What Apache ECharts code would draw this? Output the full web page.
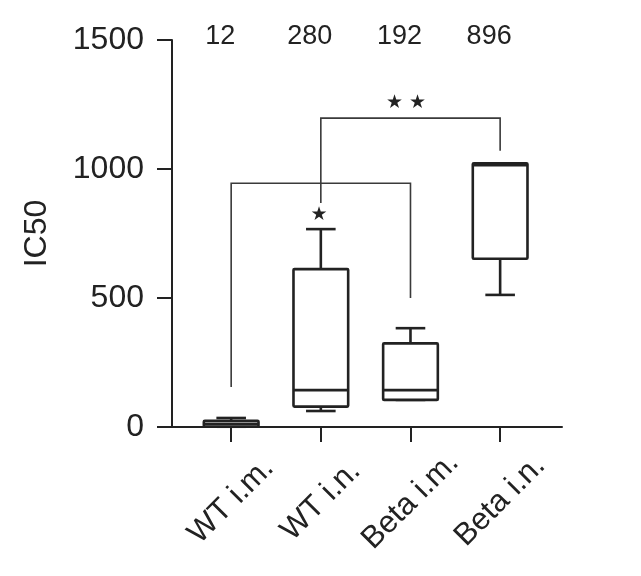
<!DOCTYPE html>
<html>
<head>
<meta charset="utf-8">
<script src="https://cdn.jsdelivr.net/npm/echarts@6/dist/echarts.min.js"></script>
<style>html,body{margin:0;padding:0;background:#fff}#c{width:641px;height:576px}</style>
</head>
<body>
<div id="c"></div>
<script>
const categories = ['WT i.m.', 'WT i.n.', 'Beta i.m.', 'Beta i.n.'];
const boxMin    = [1, 62, 105, 512];
const boxQ1     = [2, 79, 105, 652];
const boxMedian = [12, 143, 143, 1015];
const boxQ3     = [24, 612, 324, 1022];
const boxMax    = [35, 767, 383, 1022];
const topValues = ['12', '280', '192', '896'];
const yTicks = [0, 500, 1000, 1500];

// significance brackets: [from category, to category, bar height, left leg end, right leg end]
const bracketFrom = [0, 1];
const bracketTo = [2, 3];
const bracketTop = [945, 1197];
const bracketLeftEnd = [155, 868];
const bracketRightEnd = [500, 1071];
const markX = [0.98, 1.95];
const markY = [822, 1256];
const markText = ['\u2605', '\u2605 \u2605'];

const FONT = 'Liberation Sans, Arial, sans-serif';
const INK = '#222';

const boxData = categories.map((c, i) => [i, boxMin[i], boxQ1[i], boxMedian[i], boxQ3[i], boxMax[i]]);
const bracketData = bracketFrom.map((f, i) => [f, bracketTo[i], bracketTop[i], bracketLeftEnd[i], bracketRightEnd[i]]);
const markData = markX.map((x, i) => [x, markY[i]]);
const topData = topValues.map((t, i) => [i, yTicks[yTicks.length - 1]]);

const chart = echarts.init(document.getElementById('c'), null, {renderer: 'canvas'});
chart.setOption({
  animation: false,
  backgroundColor: '#fff',
  grid: {left: 172, right: 79, top: 40, bottom: 149, containLabel: false},
  xAxis: {
    type: 'value', min: -0.66, max: 3.69,
    splitLine: {show: false},
    axisLine: {show: true, onZero: false, lineStyle: {color: INK, width: 2}},
    axisTick: {show: true, customValues: [0, 1, 2, 3], length: 15, lineStyle: {color: INK, width: 2}},
    axisLabel: {
      customValues: [0, 1, 2, 3],
      formatter: v => categories[Math.round(v)] || '',
      rotate: 45, align: 'center', verticalAlign: 'middle', margin: 74,
      fontSize: 31, fontFamily: FONT, color: INK
    }
  },
  yAxis: {
    type: 'value', min: 0, max: 1500, interval: 500,
    splitLine: {show: false},
    axisLine: {show: true, onZero: false, lineStyle: {color: INK, width: 2}},
    axisTick: {show: true, length: 15, lineStyle: {color: INK, width: 2}},
    axisLabel: {fontSize: 32, fontFamily: FONT, color: INK, margin: 28, formatter: v => String(v)},
    name: 'IC50', nameLocation: 'middle', nameGap: 119, nameRotate: 90,
    nameTextStyle: {fontSize: 32, fontFamily: FONT, color: INK}
  },
  series: [
    {
      type: 'custom',
      clip: false,
      data: bracketData,
      renderItem: function (params, api) {
        const a = api.coord([api.value(0), api.value(2)]);
        const b = api.coord([api.value(1), api.value(2)]);
        const aEnd = api.coord([api.value(0), api.value(3)]);
        const bEnd = api.coord([api.value(1), api.value(4)]);
        return {
          type: 'polyline',
          shape: {points: [[aEnd[0], aEnd[1]], [a[0], a[1]], [b[0], b[1]], [bEnd[0], bEnd[1]]]},
          style: {stroke: '#3a3a3a', lineWidth: 1.6, fill: null}
        };
      },
      z: 1
    },
    {
      type: 'custom',
      clip: false,
      data: boxData,
      z: 2,
      renderItem: function (params, api) {
        const x = api.value(0);
        const bw = api.size([0.61, 0])[0];
        const cw = api.size([0.33, 0])[0];
        const cx = api.coord([x, 0])[0];
        const yMin = api.coord([x, api.value(1)])[1];
        const yQ1 = api.coord([x, api.value(2)])[1];
        const yMed = api.coord([x, api.value(3)])[1];
        const yQ3 = api.coord([x, api.value(4)])[1];
        const yMax = api.coord([x, api.value(5)])[1];
        const st = {stroke: INK, lineWidth: 2.6, fill: null};
        return {
          type: 'group',
          children: [
            {type: 'line', shape: {x1: cx, y1: yQ3, x2: cx, y2: yMax}, style: st},
            {type: 'line', shape: {x1: cx - cw / 2, y1: yMax, x2: cx + cw / 2, y2: yMax}, style: st},
            {type: 'line', shape: {x1: cx, y1: yQ1, x2: cx, y2: yMin}, style: st},
            {type: 'line', shape: {x1: cx - cw / 2, y1: yMin, x2: cx + cw / 2, y2: yMin}, style: st},
            {type: 'rect', shape: {x: cx - bw / 2, y: yQ3, width: bw, height: yQ1 - yQ3, r: 1}, style: {stroke: INK, lineWidth: 2.6, fill: '#fff'}},
            {type: 'line', shape: {x1: cx - bw / 2, y1: yMed, x2: cx + bw / 2, y2: yMed}, style: st}
          ]
        };
      }
    },
    {
      type: 'custom',
      clip: false,
      data: markData,
      z: 3,
      renderItem: function (params, api) {
        const p = api.coord([api.value(0), api.value(1)]);
        return {
          type: 'text', x: p[0], y: p[1],
          style: {text: markText[params.dataIndex], fontSize: 19, fontFamily: 'DejaVu Sans', fill: INK, align: 'center', verticalAlign: 'middle'}
        };
      }
    },
    {
      type: 'custom',
      clip: false,
      data: topData,
      z: 3,
      renderItem: function (params, api) {
        const p = api.coord([api.value(0), api.value(1)]);
        return {
          type: 'text', x: p[0] - 11, y: p[1] - 3,
          style: {text: topValues[params.dataIndex], fontSize: 27, fontFamily: FONT, fill: INK, align: 'center', verticalAlign: 'middle'}
        };
      }
    }
  ]
});
</script>
</body>
</html>
